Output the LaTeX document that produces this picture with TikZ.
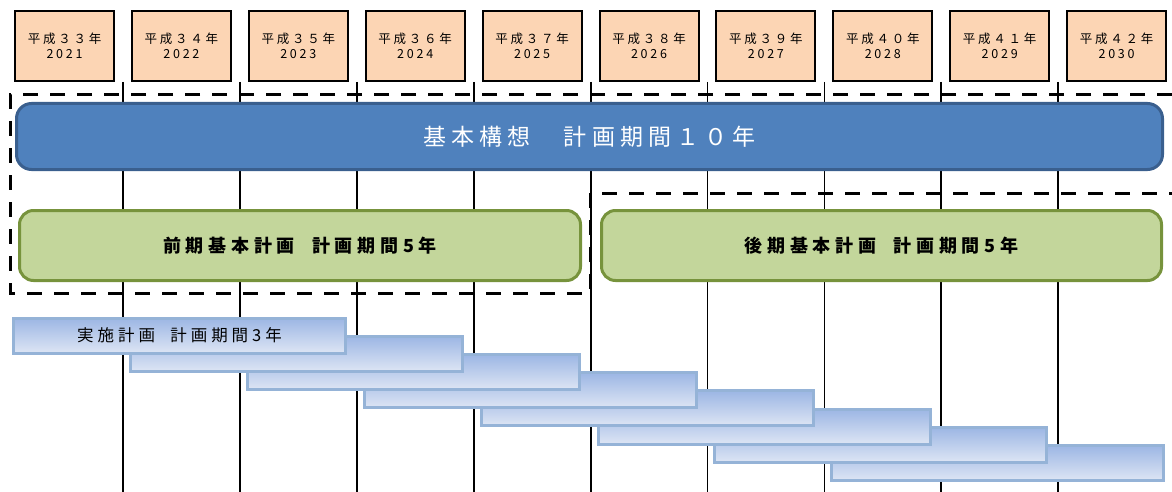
\documentclass[tikz,border=0pt]{standalone}
\usepackage{fontspec}
\setmainfont{Noto Sans CJK JP}
\usepackage{tikz}
\usetikzlibrary{positioning,calc}

\definecolor{peach}{HTML}{FCD5B4}
\definecolor{planfill}{HTML}{4F81BD}
\definecolor{planline}{HTML}{3A5F8E}
\definecolor{greenfill}{HTML}{C3D69B}
\definecolor{greenline}{HTML}{77933C}
\definecolor{acttop}{HTML}{9CB6E4}
\definecolor{actbot}{HTML}{DDE5F4}
\definecolor{actline}{HTML}{95B3D7}

\begin{document}
\begin{tikzpicture}[x=1pt,y=-1pt,
    yearbox/.style={draw=black,line width=2pt,fill=peach,minimum width=99pt,minimum height=70pt,
      inner sep=0pt,align=center,font=\fontsize{12.5}{15}\selectfont\addfontfeature{LetterSpace=22}},
    planbar/.style={draw=planline,line width=3pt,fill=planfill,rounded corners=15pt,minimum width=1146pt,
      minimum height=66pt,text=white,font=\fontsize{23}{27}\selectfont\addfontfeature{LetterSpace=22}},
    halfbar/.style={draw=greenline,line width=3pt,fill=greenfill,rounded corners=14pt,minimum width=560pt,
      minimum height=70pt,font=\fontsize{18}{22}\selectfont\bfseries\addfontfeature{LetterSpace=26}},
    actbar/.style={draw=actline,line width=3pt,top color=acttop,bottom color=actbot,minimum width=332pt,
      minimum height=35pt,inner sep=0pt,font=\fontsize{16.5}{19}\selectfont\addfontfeature{LetterSpace=24}},
    dashline/.style={line width=3pt,dash pattern=on 15pt off 12pt}]
\useasboundingbox (0,0) rectangle (1172,492);
% year lines
\foreach \i in {0,...,8}
  \draw[line width=1.8pt] (123+116.9*\i,82) -- (123+116.9*\i,492);
% year boxes
\foreach \h/\w [count=\i from 0] in {３３/2021,３４/2022,３５/2023,３６/2024,３７/2025,
    ３８/2026,３９/2027,４０/2028,４１/2029,４２/2030}
  \node[yearbox] (yr\i) at (64.5+116.9*\i,46) {平成\h 年\\\w};
% dashed frames
\draw[dashline] (1172,95) -- (10,95) -- (10,293) -- (590,293) -- (590,193) -- (1172,193);
% plans
\node[planbar] (plan) at (589.5,136.5) {基本構想　計画期間１０年};
\node[halfbar,minimum width=561pt] (early) at (300,245.5) {前期基本計画\ \ 計画期間5年};
\node[halfbar] (late) at (881.5,245.5) {後期基本計画\ \ 計画期間5年};
% action plans, last one first
\foreach \k in {7,...,1}
  \node[actbar] (act\k) at (179.5+116.9*\k,335.5+18.2*\k) {};
\node[actbar] (act0) at (179.5,335.5) {実施計画\ \ 計画期間3年};
\end{tikzpicture}
\end{document}
